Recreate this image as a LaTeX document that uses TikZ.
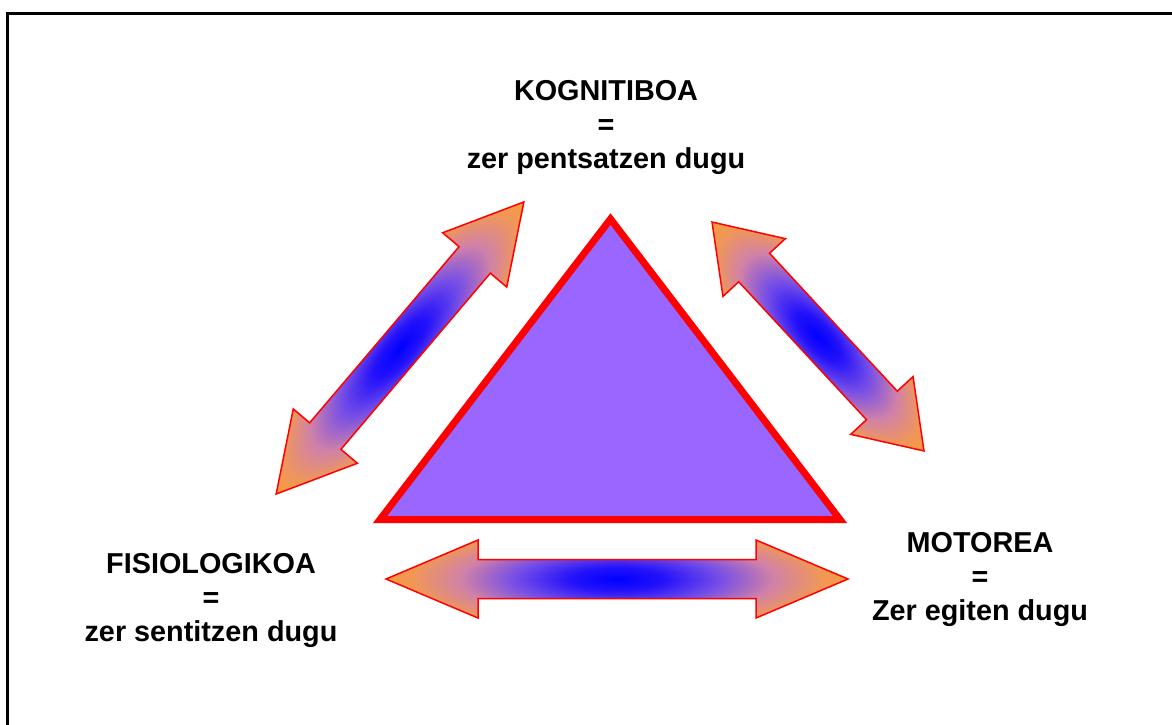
\documentclass[tikz,border=0pt]{standalone}
\usepackage{fontspec}
\setmainfont{Liberation Sans}
\usetikzlibrary{positioning}

\pgfdeclareradialshading{arrowglow}{\pgfpoint{0bp}{0bp}}{rgb(0bp)=(0,0,1); rgb(5bp)=(0.14,0.07,0.98); rgb(11.25bp)=(0.47,0.31,0.9); rgb(17bp)=(0.82,0.51,0.65); rgb(22bp)=(0.94,0.59,0.35); rgb(25bp)=(0.97,0.61,0.24); rgb(50bp)=(0.97,0.61,0.24)}

\begin{document}
\begin{tikzpicture}[
    x=0.5pt, y=-0.5pt,
    every node/.style={font=\bfseries\fontsize{14.4}{17}\selectfont},
    textblock/.style={align=center, inner sep=0pt},
    outerframe/.style={draw=black, line width=1.25pt},
    centertri/.style={draw=red, fill={rgb,255:red,153;green,102;blue,255}, line width=3.5pt, line join=miter},
    arrowbody/.style={draw=red, line width=0.75pt, shading=arrowglow},
]
\useasboundingbox (0,0) rectangle (1172,724);

% Frame
\draw[outerframe] (7.5,13.5) rectangle (1190,740);

% Central triangle
\draw[centertri] (610.5,219) -- (380,519.5) -- (840,519.5) -- cycle;

% Double arrows (the two lone points widen the shading across the shaft)
\begin{scope}[transform canvas={shift={(400,348)}, rotate=49.7}]
  \path[arrowbody] (0,-63) (0,63) (-191.5,0) -- (-115.5,42) -- (-115.5,20.5) -- (115.5,20.5) -- (115.5,42) -- (191.5,0)
    -- (115.5,-42) -- (115.5,-20.5) -- (-115.5,-20.5) -- (-115.5,-42) -- cycle;
\end{scope}
\begin{scope}[transform canvas={shift={(818,336.5)}, rotate=-47.2}]
  \path[arrowbody] (0,-63) (0,63) (-156,0) -- (-94,42.5) -- (-94,21) -- (94,21) -- (94,42.5) -- (156,0)
    -- (94,-42.5) -- (94,-21) -- (-94,-21) -- (-94,-42.5) -- cycle;
\end{scope}
\begin{scope}[transform canvas={shift={(617,579)}}]
  \path[arrowbody] (0,-58) (0,58) (-231,0) -- (-139,39) -- (-139,19.5) -- (139,19.5) -- (139,39) -- (231,0)
    -- (139,-39) -- (139,-19.5) -- (-139,-19.5) -- (-139,-39) -- cycle;
\end{scope}

% Labels
\node[textblock] (kognitiboa) at (606,127) {KOGNITIBOA\\=\\zer pentsatzen dugu};
\node[textblock] (fisiologikoa) at (211,600) {FISIOLOGIKOA\\=\\zer sentitzen dugu};
\node[textblock] (motorea) at (980,579) {MOTOREA\\=\\Zer egiten dugu};

\end{tikzpicture}
\end{document}
